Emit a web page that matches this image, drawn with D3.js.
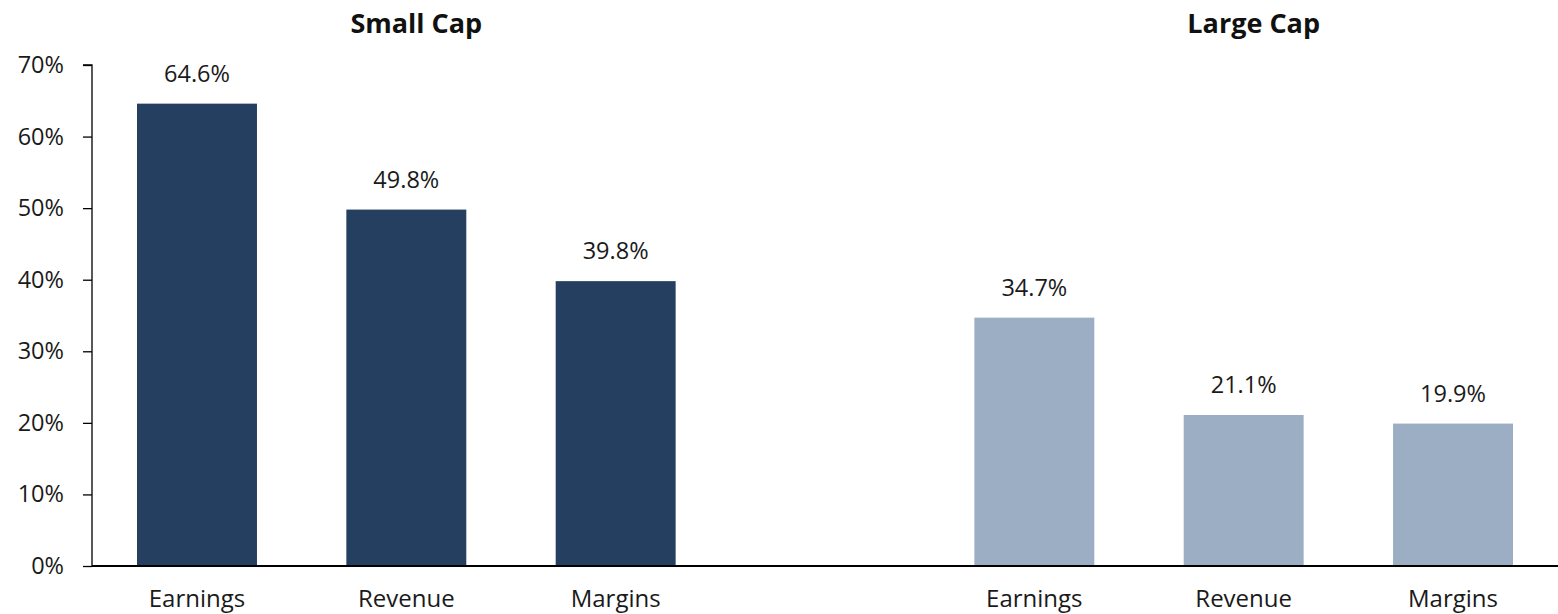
<!DOCTYPE html>
<html>
<head>
<meta charset="utf-8">
<script src="https://cdn.jsdelivr.net/npm/d3@7"></script>
<style>
  html, body { margin: 0; padding: 0; background: #fff; }
  svg { display: block; font-family: "Open Sans", Lato, sans-serif; }
</style>
</head>
<body>
<svg id="chart" width="1558" height="614"></svg>
<script>
// Growth contribution by cap size
const groups = ["Small Cap", "Large Cap"];
const metrics = ["Earnings", "Revenue", "Margins"];
const smallCapValues = [64.6, 49.8, 39.8];
const largeCapValues = [34.7, 21.1, 19.9];
const yTicks = [0, 10, 20, 30, 40, 50, 60, 70];
const groupColors = ["#253F61", "#9BAEC3"];

const rows = [
  ...metrics.map((m, i) => ({ key: "s-" + m, group: 0, metric: m, value: smallCapValues[i] })),
  { key: "gap", group: -1 },
  ...metrics.map((m, i) => ({ key: "l-" + m, group: 1, metric: m, value: largeCapValues[i] }))
];

const svg = d3.select("#chart");
const W = 1558, H = 614;
const axisX = 92, baseY = 566, topY = 65;

const x = d3.scaleBand()
  .domain(rows.map(d => d.key))
  .range([axisX, W])
  .paddingInner(0.427)
  .paddingOuter(0.215);

const y = d3.scaleLinear().domain([0, 70]).range([baseY, topY]);

// y axis
const yAxis = svg.append("g")
  .attr("transform", `translate(${axisX},0)`)
  .call(d3.axisLeft(y).tickValues(yTicks).tickFormat(d => d + "%").tickSize(9).tickPadding(19));
yAxis.select(".domain").attr("stroke", "#000").attr("stroke-width", 1.3).attr("d", `M-9,${topY}H0V${baseY}`);
yAxis.selectAll(".tick line").attr("stroke", "#000").attr("stroke-width", 1.3);
yAxis.selectAll(".tick text")
  .attr("fill", "#1a1a1a")
  .style("font-size", "23.5px")
  .style("font-family", "'Open Sans', sans-serif");

const data = rows.filter(d => d.group >= 0);

// bars
svg.append("g").selectAll("rect")
  .data(data)
  .join("rect")
  .attr("x", d => x(d.key))
  .attr("width", x.bandwidth())
  .attr("y", d => y(d.value))
  .attr("height", d => baseY - y(d.value))
  .attr("fill", d => groupColors[d.group]);

// value labels
svg.append("g").selectAll("text")
  .data(data)
  .join("text")
  .attr("x", d => x(d.key) + x.bandwidth() / 2)
  .attr("y", d => y(d.value) - 22)
  .attr("text-anchor", "middle")
  .attr("fill", "#1a1a1a")
  .style("font-size", "23.5px")
  .text(d => d.value.toFixed(1) + "%");

// x baseline
svg.append("line")
  .attr("x1", axisX).attr("x2", W)
  .attr("y1", baseY).attr("y2", baseY)
  .attr("stroke", "#000").attr("stroke-width", 2.2);

// category labels
svg.append("g").selectAll("text")
  .data(data)
  .join("text")
  .attr("x", d => x(d.key) + x.bandwidth() / 2)
  .attr("y", 607)
  .attr("text-anchor", "middle")
  .attr("fill", "#1a1a1a")
  .style("font-size", "24px")
  .text(d => d.metric);

// group titles above the middle bar of each group
svg.append("g").selectAll("text")
  .data(groups)
  .join("text")
  .attr("x", (g, i) => x((i === 0 ? "s-" : "l-") + "Revenue") + x.bandwidth() / 2 + 10)
  .attr("y", 33)
  .attr("text-anchor", "middle")
  .attr("fill", "#111")
  .style("font-size", "27px")
  .style("font-weight", "bold")
  .text(g => g);
</script>
</body>
</html>
